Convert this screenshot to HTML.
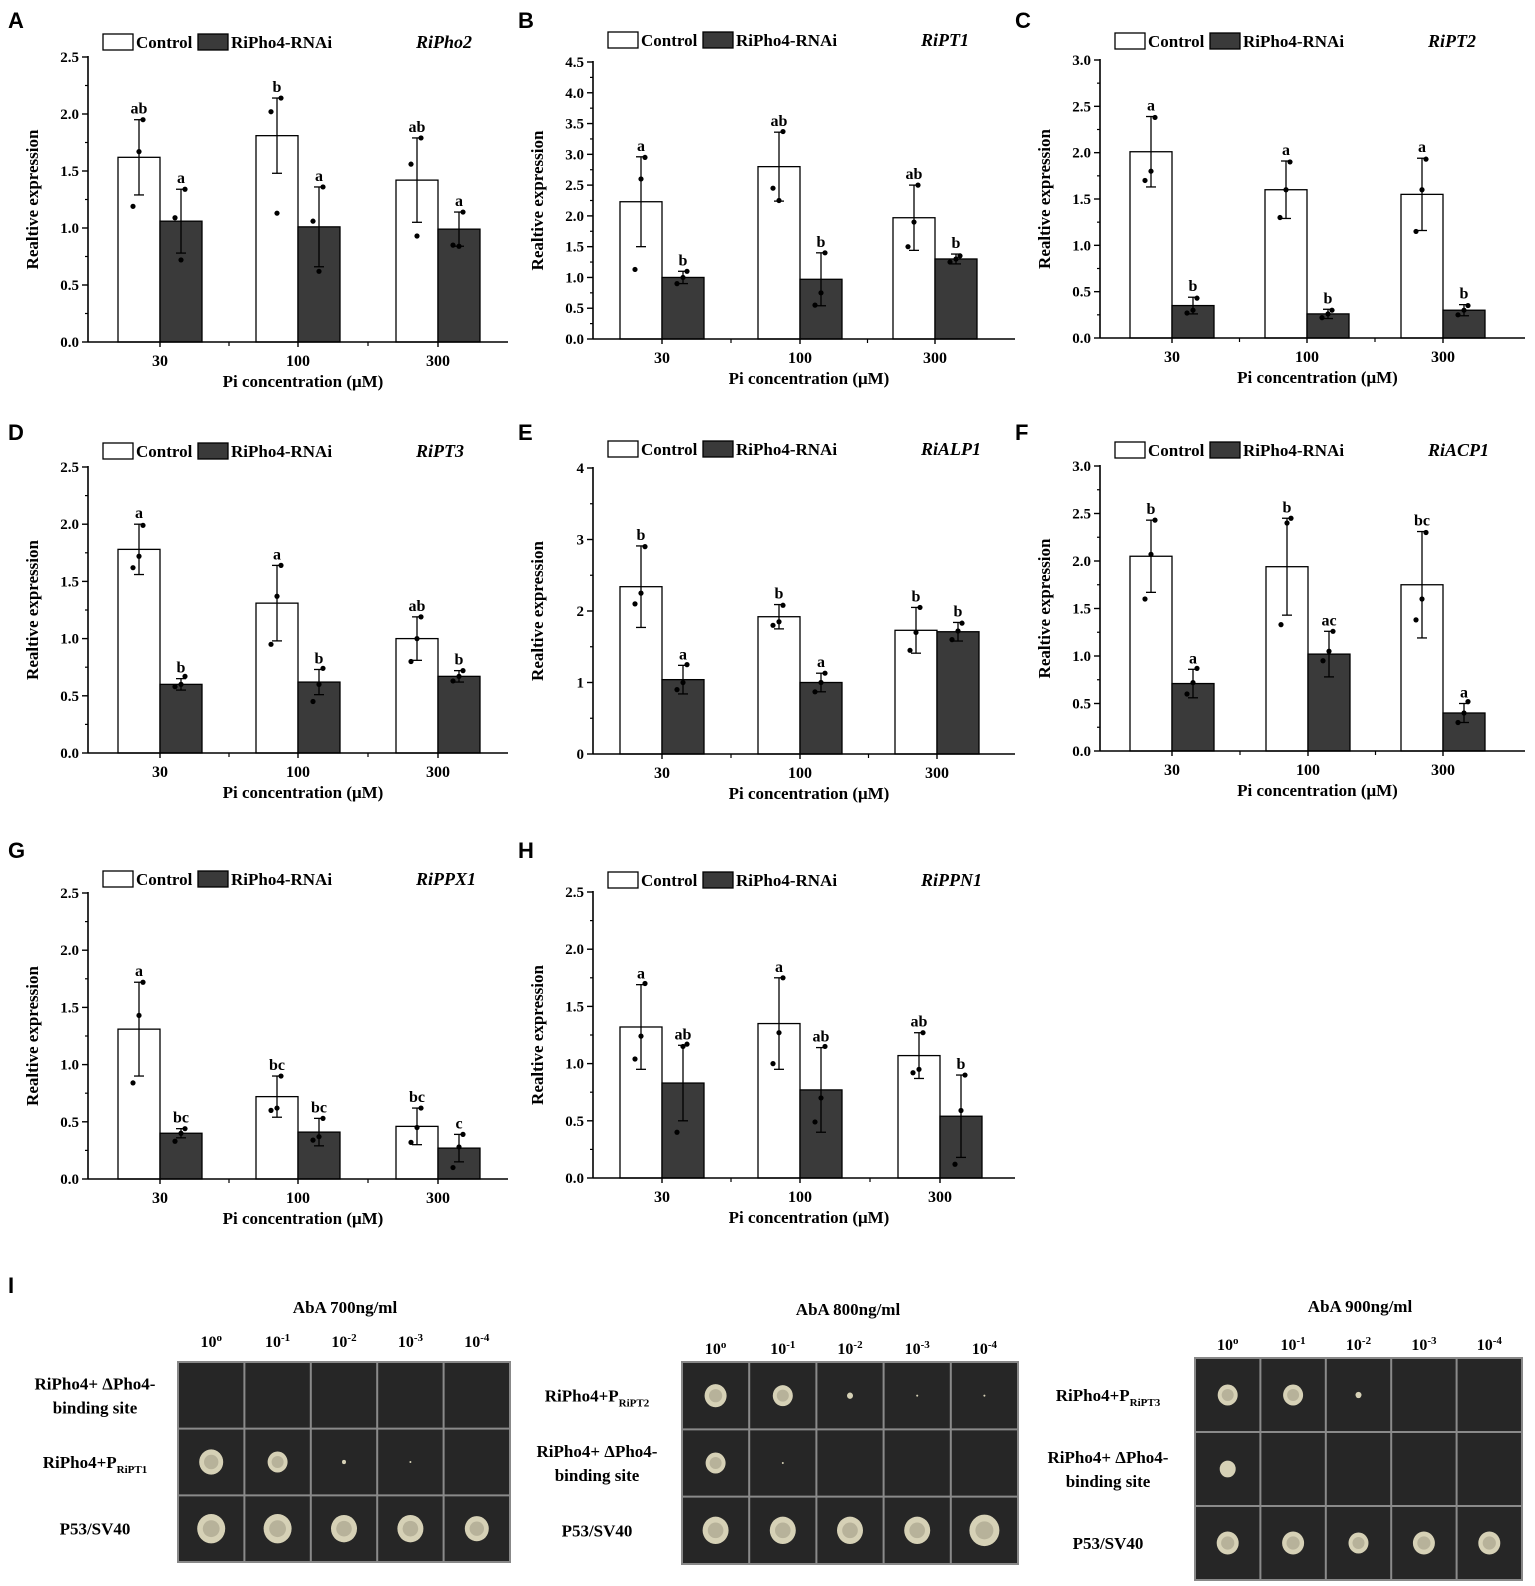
<!DOCTYPE html>
<html><head><meta charset="utf-8">
<style>
body{margin:0;background:#fff;}
svg{display:block;font-family:"Liberation Serif",serif;}
.lt{font-family:"Liberation Sans",sans-serif;font-weight:bold;font-size:22px;}
.b{font-weight:bold;}
</style></head>
<body>
<svg id="fig" width="1535" height="1586" viewBox="0 0 1535 1586" xmlns="http://www.w3.org/2000/svg"></svg>
<script>
const categories=["30","100","300"];
const genes=["RiPho2","RiPT1","RiPT2","RiPT3","RiALP1","RiACP1","RiPPX1","RiPPN1"];
const ctrlMean=[[1.62,1.81,1.42],[2.23,2.8,1.97],[2.01,1.6,1.55],[1.78,1.31,1.0],[2.34,1.92,1.73],[2.05,1.94,1.75],[1.31,0.72,0.46],[1.32,1.35,1.07]];
const ctrlSd=[[0.33,0.33,0.37],[0.73,0.56,0.53],[0.38,0.31,0.39],[0.22,0.33,0.19],[0.57,0.17,0.32],[0.38,0.51,0.56],[0.41,0.18,0.16],[0.37,0.4,0.2]];
const rnaiMean=[[1.06,1.01,0.99],[1.0,0.97,1.3],[0.35,0.26,0.3],[0.6,0.62,0.67],[1.04,1.0,1.71],[0.71,1.02,0.4],[0.4,0.41,0.27],[0.83,0.77,0.54]];
const rnaiSd=[[0.28,0.35,0.15],[0.1,0.43,0.08],[0.09,0.05,0.06],[0.05,0.11,0.05],[0.2,0.13,0.13],[0.15,0.24,0.1],[0.04,0.12,0.12],[0.33,0.37,0.36]];
const ctrlPts=[[[1.19,1.67,1.95],[2.02,1.13,2.14],[1.56,0.93,1.79]],[[1.13,2.6,2.95],[2.45,2.25,3.37],[1.5,1.9,2.5]],[[1.7,1.8,2.38],[1.3,1.6,1.9],[1.15,1.6,1.93]],[[1.62,1.72,1.99],[0.95,1.37,1.64],[0.8,1.0,1.19]],[[2.1,2.25,2.9],[1.8,1.85,2.08],[1.45,1.7,2.05]],[[1.6,2.07,2.43],[1.33,2.4,2.45],[1.38,1.6,2.3]],[[0.84,1.43,1.72],[0.6,0.62,0.9],[0.32,0.45,0.62]],[[1.04,1.24,1.7],[1.0,1.27,1.75],[0.92,0.95,1.27]]];
const rnaiPts=[[[1.09,0.72,1.34],[1.06,0.62,1.36],[0.85,0.84,1.14]],[[0.9,1.0,1.1],[0.55,0.75,1.4],[1.25,1.3,1.35]],[[0.27,0.3,0.43],[0.22,0.26,0.3],[0.25,0.3,0.35]],[[0.58,0.6,0.67],[0.45,0.6,0.74],[0.63,0.67,0.72]],[[0.9,1.0,1.25],[0.87,1.0,1.13],[1.6,1.72,1.83]],[[0.6,0.72,0.87],[0.95,1.05,1.26],[0.3,0.4,0.52]],[[0.33,0.4,0.44],[0.34,0.37,0.53],[0.1,0.28,0.39]],[[0.4,1.15,1.17],[0.49,0.7,1.15],[0.12,0.59,0.9]]];
const ctrlLetters=[["ab","b","ab"],["a","ab","ab"],["a","a","a"],["a","a","ab"],["b","b","b"],["b","b","bc"],["a","bc","bc"],["a","a","ab"]];
const rnaiLetters=[["a","a","a"],["b","b","b"],["b","b","b"],["b","b","b"],["a","a","b"],["a","ac","a"],["bc","bc","c"],["ab","ab","b"]];
const yMax=[2.5,4.5,3.0,2.5,4,3.0,2.5,2.5];
const yStep=[0.5,0.5,0.5,0.5,1,0.5,0.5,0.5];

const L=[
 {id:"A",ax:88,top:57,y0:342,right:508,gx:[160,298,438],leg:42,lx:8,ly:28},
 {id:"B",ax:593,top:62,y0:339,right:1015,gx:[662,800,935],leg:40,lx:518,ly:28},
 {id:"C",ax:1100,top:60,y0:338,right:1525,gx:[1172,1307,1443],leg:41,lx:1015,ly:28},
 {id:"D",ax:88,top:467,y0:753,right:508,gx:[160,298,438],leg:451,lx:8,ly:440},
 {id:"E",ax:593,top:468,y0:754,right:1015,gx:[662,800,937],leg:449,lx:518,ly:440},
 {id:"F",ax:1100,top:466,y0:751,right:1525,gx:[1172,1308,1443],leg:450,lx:1015,ly:440},
 {id:"G",ax:88,top:893,y0:1179,right:508,gx:[160,298,438],leg:879,lx:8,ly:858},
 {id:"H",ax:593,top:892,y0:1178,right:1015,gx:[662,800,940],leg:880,lx:518,ly:858}
];
const NS="http://www.w3.org/2000/svg";
const fig=document.getElementById('fig');
function mk(tag,attrs,parent,txt){const e=document.createElementNS(NS,tag);for(const k in attrs)e.setAttribute(k,attrs[k]);if(txt!==undefined)e.textContent=txt;(parent||fig).appendChild(e);return e;}

L.forEach((p,i)=>{
 const g=mk('g',{});
 
 
 const ys=v=>p.y0-(v/yMax[i])*(p.y0-p.top);
 const bw=42;
 const t=mk('text',{x:p.lx,y:p.ly,class:'lt'},g,p.id);
 
 const lg=mk('g',{},g);
 
 mk('rect',{x:p.ax+15,y:p.leg-8,width:30,height:16,fill:'#fff',stroke:'#000','stroke-width':1.3},lg);
 mk('text',{x:p.ax+48,y:p.leg+6,'font-size':17,class:'b'},lg,'Control');
 mk('rect',{x:p.ax+110,y:p.leg-8,width:30,height:16,fill:'#3a3a3a',stroke:'#000','stroke-width':1.3},lg);
 mk('text',{x:p.ax+143,y:p.leg+6,'font-size':17,class:'b'},lg,'RiPho4-RNAi');
 const gt=mk('text',{x:p.ax+328,y:p.leg+6,'font-size':18,'font-weight':'bold','font-style':'italic'},g,genes[i]);
 
 for(let c=0;c<3;c++){
  [[ctrlMean,ctrlSd,ctrlPts,ctrlLetters,'#fff',-bw,'control'],[rnaiMean,rnaiSd,rnaiPts,rnaiLetters,'#3a3a3a',0,'rnai']].forEach(s=>{
   const m=s[0][i][c],sd=s[1][i][c],x0=p.gx[c]+s[5],cx=x0+bw/2;
   const r=mk('rect',{x:x0,y:ys(m),width:bw,height:p.y0-ys(m),fill:s[4],stroke:'#000','stroke-width':1.3},g);
   
   mk('line',{x1:cx,x2:cx,y1:ys(m+sd),y2:ys(m-sd),stroke:'#000','stroke-width':1.3},g);
   mk('line',{x1:cx-5,x2:cx+5,y1:ys(m+sd),y2:ys(m+sd),stroke:'#000','stroke-width':1.3},g);
   mk('line',{x1:cx-5,x2:cx+5,y1:ys(m-sd),y2:ys(m-sd),stroke:'#000','stroke-width':1.3},g);
   const off=[-6,0,4];
   s[2][i][c].forEach((v,k)=>{const d=mk('circle',{cx:cx+off[k],cy:ys(v),r:2.6,fill:'#000'},g);});
   const lt=mk('text',{x:cx,y:ys(m+sd)-6,'font-size':16,'text-anchor':'middle',class:'b'},g,s[3][i][c]);
   
  });
 }
 const axg=mk('g',{},g);
 
 mk('line',{x1:p.ax,x2:p.ax,y1:p.top-1,y2:p.y0,stroke:'#000','stroke-width':1.6},axg);
 const n=Math.round(yMax[i]/yStep[i]);
 for(let k=0;k<=n;k++){const v=k*yStep[i],y=ys(v);
  mk('line',{x1:p.ax-6,x2:p.ax,y1:y,y2:y,stroke:'#000','stroke-width':1.4},axg);
  if(k<n){const ym=ys(v+yStep[i]/2);mk('line',{x1:p.ax-3,x2:p.ax,y1:ym,y2:ym,stroke:'#000','stroke-width':1.2},axg);}
  mk('text',{x:p.ax-9,y:y+5,'font-size':15,'text-anchor':'end',class:'b'},axg,yStep[i]<1?v.toFixed(1):String(v));
 }
 const yt=mk('text',{x:0,y:0,'font-size':17,'text-anchor':'middle',class:'b',transform:`translate(${p.ax-50},${(p.top+p.y0)/2}) rotate(-90)`},g,'Realtive expression');
 
 const xg=mk('g',{},g);
 
 mk('line',{x1:p.ax,x2:p.right,y1:p.y0,y2:p.y0,stroke:'#000','stroke-width':1.6},xg);
 p.gx.forEach((x,c)=>{
  mk('line',{x1:x,x2:x,y1:p.y0,y2:p.y0+5,stroke:'#000','stroke-width':1.4},xg);
  mk('text',{x:x,y:p.y0+24,'font-size':16,'text-anchor':'middle',class:'b'},xg,categories[c]);
  if(c<2){const xm=(x+p.gx[c+1])/2;mk('line',{x1:xm,x2:xm,y1:p.y0,y2:p.y0+4,stroke:'#000','stroke-width':1.2},xg);}
 });
 const xt=mk('text',{x:(p.ax+p.right)/2+5,y:p.y0+45,'font-size':17,'text-anchor':'middle',class:'b'},g,'Pi concentration (\u03bcM)');
 
});

const il=mk('text',{x:8,y:1293,class:'lt'},fig,'I');

const exps=["0","-1","-2","-3","-4"];
const plates=[
 {title:"AbA 700ng/ml",x:178,y:1362,w:332,h:200,tx:345,ty:1313,cy:1347,lx:95,
  rows:[["RiPho4+ \u0394Pho4-","binding site"],["RiPho4+P|RiPT1"],["P53/SV40"]],
  spots:[[0,0,0,0,0],[12,10,2,1,0],[14,14,13,13,12]]},
 {title:"AbA 800ng/ml",x:682,y:1362,w:336,h:202,tx:848,ty:1315,cy:1354,lx:597,
  rows:[["RiPho4+P|RiPT2"],["RiPho4+ \u0394Pho4-","binding site"],["P53/SV40"]],
  spots:[[11,10,3,1,1],[10,1,0,0,0],[13,13,13,13,15]]},
 {title:"AbA 900ng/ml",x:1195,y:1358,w:327,h:222,tx:1360,ty:1312,cy:1350,lx:1108,
  rows:[["RiPho4+P|RiPT3"],["RiPho4+ \u0394Pho4-","binding site"],["P53/SV40"]],
  spots:[[10,10,3,0,0],[8,0,0,0,0],[11,11,10,11,11]]}
];
plates.forEach((pl,pi)=>{
 const g=mk('g',{});
 
 mk('text',{x:pl.tx,y:pl.ty,'font-size':17,'text-anchor':'middle',class:'b'},g,pl.title);
 mk('rect',{x:pl.x,y:pl.y,width:pl.w,height:pl.h,fill:'#262626',stroke:'#888','stroke-width':2},g);
 const cw=pl.w/5,rh=pl.h/3;
 for(let k=1;k<5;k++)mk('line',{x1:pl.x+k*cw,x2:pl.x+k*cw,y1:pl.y,y2:pl.y+pl.h,stroke:'#8a8a8a','stroke-width':2},g);
 for(let k=1;k<3;k++)mk('line',{x1:pl.x,x2:pl.x+pl.w,y1:pl.y+k*rh,y2:pl.y+k*rh,stroke:'#8a8a8a','stroke-width':2},g);
 exps.forEach((e,k)=>{const t=mk('text',{x:pl.x+k*cw+cw/2,y:pl.cy,'font-size':16,'text-anchor':'middle',class:'b'},g,'10');
  mk('tspan',{'font-size':11,dy:-6},t,e==="0"?"o":e);});
 pl.spots.forEach((row,r)=>row.forEach((s,c)=>{
  if(s>0){const cx=pl.x+c*cw+cw/2,cy=pl.y+r*rh+rh/2;
   mk('ellipse',{cx:cx,cy:cy,rx:s,ry:s*1.05,fill:'#d6d1b6'},g);
   if(s>8)mk('ellipse',{cx:cx,cy:cy,rx:s*0.6,ry:s*0.6,fill:'#b7b29a'},g);}
 }));
 pl.rows.forEach((lines,r)=>{
  const cy=pl.y+r*rh+rh/2;
  lines.forEach((ln,k)=>{
   const y=cy+6+(k-(lines.length-1)/2)*24;
   const parts=ln.split('|');
   const t=mk('text',{x:pl.lx,y:y,'font-size':17,'text-anchor':'middle',class:'b'},g,parts[0]);
   if(parts[1])mk('tspan',{'font-size':11,dy:5},t,parts[1]);
   
  });
 });
});
</script>
</body></html>
